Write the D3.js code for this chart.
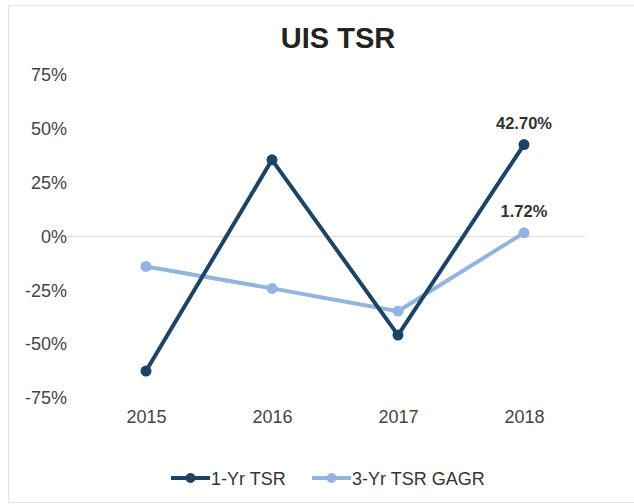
<!DOCTYPE html>
<html>
<head>
<meta charset="utf-8">
<script src="https://cdn.jsdelivr.net/npm/d3@7"></script>
<style>
  body { margin: 0; background: #fff; }
  svg { display: block; font-family: "Liberation Sans", Arial, sans-serif; }
</style>
</head>
<body>
<script>
const years = ["2015", "2016", "2017", "2018"];
const oneYr = [-62.5, 35.6, -45.8, 42.7];
const threeYr = [-13.9, -24.1, -34.7, 1.72];
const yTicks = [-75, -50, -25, 0, 25, 50, 75];
const seriesNames = ["1-Yr TSR", "3-Yr TSR GAGR"];
const colors = ["#1d4466", "#93b4e0"];

const width = 634;
const height = 504;

const svg = d3
  .select("body")
  .append("svg")
  .attr("width", width)
  .attr("height", height);

// card border
svg
  .append("rect")
  .attr("x", 8.5)
  .attr("y", 5.5)
  .attr("width", width)
  .attr("height", 497)
  .attr("fill", "#fff")
  .attr("stroke", "#e3e3e3");

svg
  .append("text")
  .attr("x", 338)
  .attr("y", 48)
  .attr("text-anchor", "middle")
  .attr("font-size", 29)
  .attr("font-weight", "bold")
  .attr("fill", "#222")
  .text("UIS TSR");

const xScale = d3.scalePoint().domain(years).range([146, 524]);
const yScale = d3.scaleLinear().domain([-75, 75]).range([398, 75]);

const yAxis = d3
  .axisLeft(yScale)
  .tickValues(yTicks)
  .tickSize(0)
  .tickPadding(0)
  .tickFormat((d) => d + "%");

const yAxisGroup = svg
  .append("g")
  .attr("transform", "translate(67 0)")
  .call(yAxis);
yAxisGroup.select(".domain").remove();
yAxisGroup
  .selectAll("text")
  .attr("font-size", 18)
  .attr("fill", "#444")
  .attr("font-family", "Liberation Sans, Arial, sans-serif");

// zero line
svg
  .append("line")
  .attr("x1", 68)
  .attr("x2", 585)
  .attr("y1", yScale(0))
  .attr("y2", yScale(0))
  .attr("stroke", "#dcdcdc")
  .attr("stroke-width", 1);

const xAxis = d3.axisBottom(xScale).tickSize(0).tickPadding(0);
const xAxisGroup = svg
  .append("g")
  .attr("transform", "translate(0 410)")
  .call(xAxis);
xAxisGroup.select(".domain").remove();
xAxisGroup
  .selectAll("text")
  .attr("font-size", 18)
  .attr("fill", "#444")
  .attr("font-family", "Liberation Sans, Arial, sans-serif");

const line = d3
  .line()
  .x((d, i) => xScale(years[i]))
  .y((d) => yScale(d));

[threeYr, oneYr].forEach((series) => {
  const c = series === oneYr ? colors[0] : colors[1];
  svg
    .append("path")
    .attr("d", line(series))
    .attr("fill", "none")
    .attr("stroke", c)
    .attr("stroke-width", 4)
    .attr("stroke-linejoin", "round");
  svg
    .selectAll(null)
    .data(series)
    .enter()
    .append("circle")
    .attr("cx", (d, i) => xScale(years[i]))
    .attr("cy", (d) => yScale(d))
    .attr("r", 5.5)
    .attr("fill", c);
});

// last-point labels
[oneYr, threeYr].forEach((series) => {
  const last = series[series.length - 1];
  svg
    .append("text")
    .attr("x", xScale(years[years.length - 1]))
    .attr("y", yScale(last) - 16)
    .attr("text-anchor", "middle")
    .attr("font-size", 16.5)
    .attr("font-weight", "bold")
    .attr("fill", "#333")
    .text(last.toFixed(2) + "%");
});

// legend
const legendX = [171, 312];
seriesNames.forEach((name, i) => {
  const g = svg.append("g").attr("transform", `translate(${legendX[i]} 478)`);
  g.append("line")
    .attr("x1", 0)
    .attr("x2", 39)
    .attr("stroke", colors[i])
    .attr("stroke-width", 4);
  g.append("circle").attr("cx", 19.5).attr("r", 5).attr("fill", colors[i]);
  g.append("text")
    .attr("x", 40)
    .attr("y", 6.5)
    .attr("font-size", 18)
    .attr("fill", "#333")
    .text(name);
});
</script>
</body>
</html>
